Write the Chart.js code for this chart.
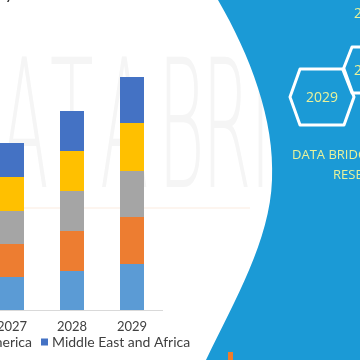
<!DOCTYPE html>
<html>
<head>
<meta charset="utf-8">
<script src="https://cdn.jsdelivr.net/npm/chart.js@4.4.0/dist/chart.umd.min.js"></script>
<style>
  html, body { margin:0; padding:0; background:#fff; }
  #stage { position:relative; width:360px; height:360px; overflow:hidden; background:#fff; }
  #wm { position:absolute; left:0; top:0; z-index:0; }
  #chartBox { position:absolute; left:-18px; top:0; width:400px; height:360px; z-index:1; }
  #deco { position:absolute; left:0; top:0; z-index:2; }
  #title { position:absolute; right:300px; top:-17px; font:18px Lato, sans-serif; color:#333; white-space:nowrap; line-height:18px; z-index:3; }
</style>
</head>
<body>
<div id="stage">
  <svg id="wm" width="360" height="360">
    <g transform="scale(0.4,1)">
      <text x="-125 0 125 250 395 505 625 675 800 925" y="187" font-family="DejaVu Sans" font-weight="200" font-size="178" fill="#f5f5f5">DATABRIDGE</text>
    </g>
    <rect x="0" y="207" width="250" height="2" fill="#fdf5ef"/>
  </svg>
  <div id="chartBox"><canvas id="c" width="400" height="360"></canvas></div>
  <svg id="deco" width="360" height="360">
    <path d="M218,0 C250,55 275,120 272,180 C270,240 235,300 206,360 L360,360 L360,0 Z" fill="#1b9ad6"/>
    <polygon points="290,97 300,69 344,69 354,97 344,125 300,125" fill="none" stroke="#fff" stroke-width="3" stroke-linejoin="round"/>
    <polygon points="343,70 352,47 398,47 407,70 398,93 352,93" fill="none" stroke="#fff" stroke-width="3" stroke-linejoin="round"/>
    <text x="322" y="102" text-anchor="middle" font-family="Open Sans" font-size="14" fill="#e9f29a">2029</text>
    <text x="354" y="75" font-family="Open Sans" font-size="14" fill="#e9f29a">2028</text>
    <text x="354" y="18" font-family="Open Sans" font-size="14" fill="#e9f29a">2022</text>
    <text x="292" y="159" font-family="Open Sans" font-size="13" fill="#e9f29a">DATA BRIDGE MARKET</text>
    <text x="333" y="179" font-family="Open Sans" font-size="13" fill="#e9f29a">RESEARCH</text>
    <rect x="228" y="352" width="5" height="8" fill="#f07c2a"/>
  </svg>
  <div id="title">Market Growth Potential by 2029</div>
</div>
<script>
// ---- data ----
const years = ['2027', '2028', '2029'];
const regionNames = ['North America', 'Europe', 'Asia-Pacific', 'South America', 'Middle East and Africa'];
const northAmerica = [3.3, 3.9, 4.6];
const europe = [3.3, 4.0, 4.7];
const asiaPacific = [3.3, 4.0, 4.6];
const southAmerica = [3.4, 4.0, 4.8];
const middleEastAfrica = [3.4, 4.0, 4.6];
const seriesValues = [northAmerica, europe, asiaPacific, southAmerica, middleEastAfrica];

// ---- style ----
const seriesColors = ['#5B9BD5', '#ED7D31', '#A5A5A5', '#FFC000', '#4472C4'];
const OFFSET_X = 18; // canvas shifted left by this many px

const legendPlugin = {
  id: 'customLegend',
  afterDraw(chart) {
    const ctx = chart.ctx;
    ctx.save();
    ctx.font = '14px Lato, sans-serif';
    ctx.textBaseline = 'middle';
    const y = 342;
    const box = 7, gap = 4, spacing = 9;
    let markerX = 41 + OFFSET_X;
    const ds = chart.data.datasets;
    for (let i = ds.length - 1; i >= 0; i--) {
      const label = ds[i].label;
      ctx.fillStyle = ds[i].backgroundColor;
      ctx.fillRect(markerX, y - box / 2, box, box);
      ctx.fillStyle = '#404040';
      ctx.fillText(label, markerX + box + gap, y);
      if (i > 0) {
        const prevW = ctx.measureText(ds[i - 1].label).width;
        markerX = markerX - spacing - prevW - gap - box;
      }
    }
    ctx.restore();
  }
};

new Chart(document.getElementById('c'), {
  type: 'bar',
  data: {
    labels: years,
    datasets: regionNames.map((name, i) => ({
      label: name,
      data: seriesValues[i],
      backgroundColor: seriesColors[i],
      borderWidth: 0,
      barPercentage: 0.4,
      categoryPercentage: 1
    }))
  },
  options: {
    responsive: false,
    animation: false,
    devicePixelRatio: 1,
    layout: { padding: { left: 0, right: 220, top: 10, bottom: 0 } },
    plugins: { legend: { display: false }, tooltip: { enabled: false } },
    scales: {
      x: {
        stacked: true,
        grid: { display: false, drawTicks: false },
        border: { display: true, color: '#d9d9d9', width: 1 },
        ticks: { color: '#404040', font: { family: 'Lato', size: 13 }, padding: 9 },
        afterFit: (s) => { s.height = 50; }
      },
      y: { stacked: true, display: false, min: 0, max: 30 }
    }
  },
  plugins: [legendPlugin]
});
</script>
</body>
</html>
